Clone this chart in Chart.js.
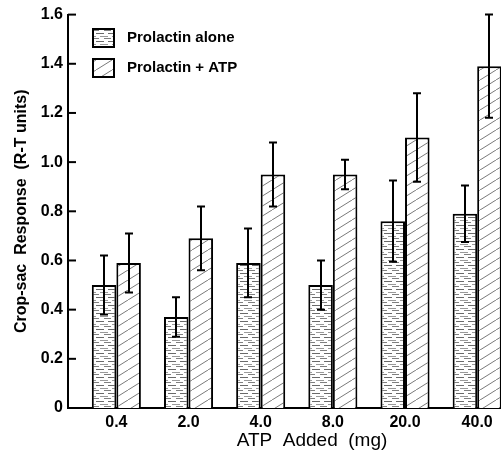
<!DOCTYPE html>
<html><head><meta charset="utf-8">
<script src="https://cdn.jsdelivr.net/npm/chart.js@4"></script>
<style>html,body{margin:0;padding:0;background:#fff;overflow:hidden}</style>
</head><body>
<canvas id="c" width="501" height="455"></canvas>
<script>
// ---- data ----
const categories = ['0.4', '2.0', '4.0', '8.0', '20.0', '40.0'];
const seriesLabels = ['Prolactin alone', 'Prolactin + ATP'];
const prolactinAlone = [0.50, 0.37, 0.59, 0.50, 0.76, 0.79];
const prolactinAloneErr = [0.12, 0.08, 0.14, 0.10, 0.165, 0.115];
const prolactinATP = [0.59, 0.69, 0.95, 0.95, 1.10, 1.39];
const prolactinATPErr = [0.12, 0.13, 0.13, 0.06, 0.18, 0.21];
const yTicks = [0, 0.2, 0.4, 0.6, 0.8, 1.0, 1.2, 1.4, 1.6];
const xTitle = 'ATP  Added  (mg)';
const yTitle = 'Crop-sac  Response  (R-T units)';

const FONT = '"Liberation Sans", Arial, sans-serif';

function makeHorizPattern() {
  const t = document.createElement('canvas');
  t.width = 12; t.height = 8;
  const g = t.getContext('2d');
  g.fillStyle = '#fff'; g.fillRect(0, 0, 12, 8);
  g.fillStyle = '#6a6a6a'; g.fillRect(0, 1, 8, 1);
  g.fillStyle = '#9a9a9a'; g.fillRect(4, 4, 8, 1);
  g.fillStyle = '#808080'; g.fillRect(0, 6, 3, 1); g.fillRect(8, 6, 4, 1);
  return g.createPattern(t, 'repeat');
}
function makeDiagPattern() {
  const W = 16, H = 10;
  const t = document.createElement('canvas');
  t.width = W; t.height = H;
  const g = t.getContext('2d');
  g.fillStyle = '#fff'; g.fillRect(0, 0, W, H);
  g.strokeStyle = '#7a7a7a'; g.lineWidth = 1;
  g.beginPath();
  g.moveTo(0, H); g.lineTo(W, 0);
  g.moveTo(-W, H); g.lineTo(0, 0);
  g.moveTo(W, 2 * H); g.lineTo(2 * W, H);
  g.stroke();
  return g.createPattern(t, 'repeat');
}
const patAlone = makeHorizPattern();
const patATP = makeDiagPattern();
const errs = [prolactinAloneErr, prolactinATPErr];

const errorBars = {
  id: 'errorBars',
  afterDatasetsDraw(chart) {
    const ctx = chart.ctx, ys = chart.scales.y;
    ctx.save();
    ctx.strokeStyle = '#000'; ctx.lineWidth = 2;
    chart.data.datasets.forEach((ds, di) => {
      const meta = chart.getDatasetMeta(di);
      meta.data.forEach((bar, j) => {
        const v = ds.data[j].y, e = errs[di][j];
        const x = Math.round(bar.x);
        const yt = ys.getPixelForValue(v + e), yb = ys.getPixelForValue(v - e);
        ctx.beginPath();
        ctx.moveTo(x, yt); ctx.lineTo(x, yb);
        ctx.moveTo(x - 4, yt); ctx.lineTo(x + 4, yt);
        ctx.moveTo(x - 4, yb); ctx.lineTo(x + 4, yb);
        ctx.stroke();
      });
    });
    ctx.restore();
  }
};

const extras = {
  id: 'extras',
  afterDraw(chart) {
    const ctx = chart.ctx, ys = chart.scales.y, ca = chart.chartArea;
    ctx.save();
    // inward y ticks
    ctx.strokeStyle = '#000'; ctx.lineWidth = 2;
    ys.ticks.forEach(t => {
      const y = ys.getPixelForValue(t.value);
      ctx.beginPath(); ctx.moveTo(ca.left, y); ctx.lineTo(ca.left + 8, y); ctx.stroke();
    });
    // legend
    const pats = [patAlone, patATP];
    seriesLabels.forEach((lab, i) => {
      const bx = 93, by = 29 + i * 30;
      ctx.fillStyle = pats[i]; ctx.fillRect(bx, by, 21, 18);
      ctx.lineWidth = 2; ctx.strokeStyle = '#000'; ctx.strokeRect(bx, by, 21, 18);
      ctx.fillStyle = '#000';
      ctx.font = 'bold 15px ' + FONT;
      ctx.textBaseline = 'middle'; ctx.textAlign = 'left';
      ctx.fillText(lab, 127, by + 9);
    });
    // x title
    ctx.font = '19px ' + FONT;
    ctx.textAlign = 'center'; ctx.textBaseline = 'middle';
    ctx.fillText(xTitle, 312, 441);
    ctx.restore();
  }
};

new Chart(document.getElementById('c'), {
  type: 'bar',
  data: {
    datasets: [
      { label: seriesLabels[0], data: categories.map((c, i) => ({ x: i, y: prolactinAlone[i] })),
        backgroundColor: patAlone, borderColor: '#000', borderWidth: 2, borderSkipped: 'bottom' },
      { label: seriesLabels[1], data: categories.map((c, i) => ({ x: i, y: prolactinATP[i] })),
        backgroundColor: patATP, borderColor: '#000', borderWidth: 2, borderSkipped: 'bottom' }
    ]
  },
  options: {
    responsive: false, animation: false, devicePixelRatio: 1,
    layout: { padding: { top: 14, right: 0, left: 0, bottom: 0 } },
    datasets: { bar: { barPercentage: 1, categoryPercentage: 0.68 } },
    plugins: { legend: { display: false }, tooltip: { enabled: false } },
    scales: {
      x: {
        type: 'linear', min: -0.67, max: 5.33, offset: false,
        afterBuildTicks: s => { s.ticks = categories.map((c, i) => ({ value: i })); },
        afterFit: s => { s.height = 47; },
        ticks: { autoSkip: false, maxRotation: 0, padding: 5, color: '#000',
                 font: { family: FONT, size: 16, weight: 'bold' },
                 callback: v => categories[v] },
        grid: { display: false, drawTicks: false, offset: false },
        border: { display: true, color: '#000', width: 2 }
      },
      y: {
        type: 'linear', min: 0, max: 1.6,
        afterBuildTicks: s => { s.ticks = yTicks.map(v => ({ value: v })); },
        afterFit: s => { s.width = 68; },
        ticks: { padding: 5, color: '#000',
                 font: { family: FONT, size: 16, weight: 'bold' },
                 callback: v => v === 0 ? '0' : v.toFixed(1) },
        grid: { display: false, drawTicks: false },
        border: { display: true, color: '#000', width: 2 },
        title: { display: true, text: yTitle, color: '#000', padding: { top: 12, bottom: 0 },
                 font: { family: FONT, size: 16, weight: 'bold' } }
      }
    }
  },
  plugins: [errorBars, extras]
});
</script>
</body></html>
